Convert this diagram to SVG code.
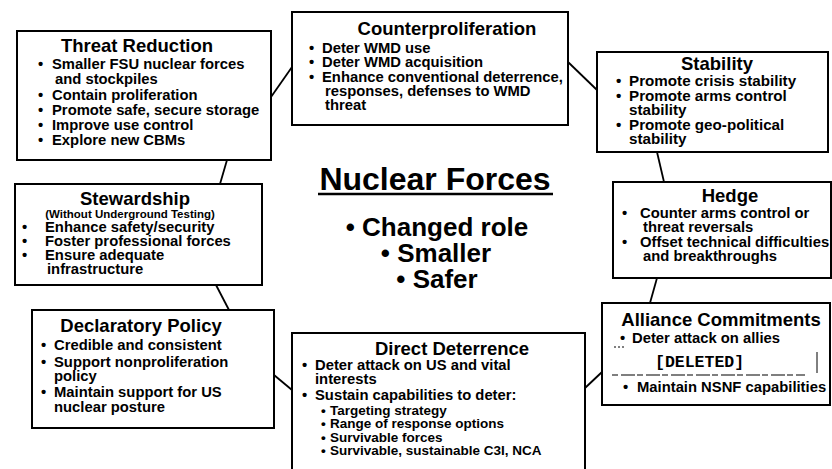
<svg xmlns="http://www.w3.org/2000/svg" width="832" height="469" viewBox="0 0 832 469">
<style>
.box{fill:#fff;stroke:#000;stroke-width:2}
.t{font-family:"Liberation Sans",Arial,sans-serif;font-weight:bold;font-size:18.5px;text-anchor:middle;fill:#000}
.b{font-family:"Liberation Sans",Arial,sans-serif;font-weight:bold;font-size:14.8px;fill:#000}
.bs{font-family:"Liberation Sans",Arial,sans-serif;font-weight:bold;font-size:15.2px;fill:#000}
.s{font-family:"Liberation Sans",Arial,sans-serif;font-weight:bold;font-size:13.5px;fill:#000}
.c{font-family:"Liberation Sans",Arial,sans-serif;font-weight:bold;text-anchor:middle;fill:#000}
.ln{stroke:#000;stroke-width:1.8;fill:none}
</style>
<rect width="832" height="469" fill="#fff"/>
<g id="connectors">
<line class="ln" x1="271" y1="97" x2="292" y2="67"/>
<line class="ln" x1="568" y1="62" x2="597" y2="90"/>
<line class="ln" x1="220" y1="184" x2="227" y2="160"/>
<line class="ln" x1="657" y1="152" x2="664" y2="182"/>
<line class="ln" x1="216" y1="285" x2="229" y2="310"/>
<line class="ln" x1="657" y1="278" x2="650" y2="303"/>
<line class="ln" x1="274" y1="375" x2="292" y2="390"/>
<line class="ln" x1="602" y1="372" x2="585" y2="388"/>
</g>
<g id="threat-reduction">
<rect class="box" x="17" y="31" width="254" height="129"/>
<text class="t" x="137" y="52">Threat Reduction</text>
<text class="b" x="38" y="69">•</text><text class="b" x="52" y="69">Smaller FSU nuclear forces</text>
<text class="b" x="55" y="84">and stockpiles</text>
<text class="b" x="38" y="100">•</text><text class="b" x="52" y="100">Contain proliferation</text>
<text class="b" x="38" y="115">•</text><text class="b" x="52" y="115">Promote safe, secure storage</text>
<text class="b" x="38" y="130">•</text><text class="b" x="52" y="130">Improve use control</text>
<text class="b" x="38" y="145">•</text><text class="b" x="52" y="145">Explore new CBMs</text>
</g>
<g id="counterproliferation">
<rect class="box" x="292" y="12" width="276" height="113"/>
<text class="t" x="447" y="35">Counterproliferation</text>
<text class="b" x="309" y="53">•</text><text class="b" x="322" y="53">Deter WMD use</text>
<text class="b" x="309" y="67">•</text><text class="b" x="322" y="67">Deter WMD acquisition</text>
<text class="b" x="309" y="82">•</text><text class="b" x="322" y="82">Enhance conventional deterrence,</text>
<text class="b" x="325" y="96">responses, defenses to WMD</text>
<text class="b" x="325" y="110">threat</text>
</g>
<g id="stability">
<rect class="box" x="597" y="52" width="231" height="100"/>
<text class="t" x="717" y="70">Stability</text>
<text class="bs" x="616" y="86">•</text><text class="bs" x="629" y="86">Promote crisis stability</text>
<text class="bs" x="616" y="100.5">•</text><text class="bs" x="629" y="100.5">Promote arms control</text>
<text class="bs" x="629" y="115">stability</text>
<text class="bs" x="616" y="129.5">•</text><text class="bs" x="629" y="129.5">Promote geo-political</text>
<text class="bs" x="629" y="144">stability</text>
</g>
<g id="stewardship">
<rect class="box" x="15" y="184" width="247" height="101"/>
<text class="t" x="135" y="205">Stewardship</text>
<text class="c" x="130" y="218" style="font-size:11.5px">(Without Underground Testing)</text>
<text class="b" x="22" y="232">•</text><text class="b" x="45" y="232">Enhance safety/security</text>
<text class="b" x="22" y="246">•</text><text class="b" x="45" y="246">Foster professional forces</text>
<text class="b" x="22" y="260">•</text><text class="b" x="45" y="260">Ensure adequate</text>
<text class="b" x="47" y="274">infrastructure</text>
</g>
<g id="center">
<text class="c" x="435" y="190" style="font-size:32px">Nuclear Forces</text>
<line x1="318" y1="194" x2="553" y2="194" stroke="#000" stroke-width="2.5"/>
<text class="c" x="437" y="236" style="font-size:26px">• Changed role</text>
<text class="c" x="436" y="262" style="font-size:26px">• Smaller</text>
<text class="c" x="437" y="288" style="font-size:26px">• Safer</text>
</g>
<g id="hedge">
<rect class="box" x="613" y="182" width="218" height="96"/>
<text class="t" x="730" y="202">Hedge</text>
<text class="b" x="622" y="218">•</text><text class="b" x="640" y="218">Counter arms control  or</text>
<text class="b" x="643" y="232">threat reversals</text>
<text class="b" x="622" y="247">•</text><text class="b" x="640" y="247">Offset technical difficulties</text>
<text class="b" x="643" y="261">and breakthroughs</text>
</g>
<g id="declaratory-policy">
<rect class="box" x="32" y="310" width="242" height="118"/>
<text class="t" x="141" y="332">Declaratory Policy</text>
<text class="b" x="41" y="350">•</text><text class="b" x="54" y="350">Credible and consistent</text>
<text class="b" x="41" y="367">•</text><text class="b" x="54" y="367">Support nonproliferation</text>
<text class="b" x="54" y="381">policy</text>
<text class="b" x="41" y="397">•</text><text class="b" x="54" y="397">Maintain support for US</text>
<text class="b" x="54" y="412">nuclear posture</text>
</g>
<g id="direct-deterrence">
<rect class="box" x="292" y="333" width="293" height="140"/>
<text class="t" x="452" y="355">Direct Deterrence</text>
<text class="b" x="302" y="370">•</text><text class="b" x="315" y="370">Deter attack on US and vital</text>
<text class="b" x="315" y="384">interests</text>
<text class="b" x="302" y="400">•</text><text class="b" x="315" y="400">Sustain capabilities to deter:</text>
<text class="s" x="321" y="415">•</text><text class="s" x="330" y="415">Targeting strategy</text>
<text class="s" x="321" y="428">•</text><text class="s" x="330" y="428">Range of response options</text>
<text class="s" x="321" y="442">•</text><text class="s" x="330" y="442">Survivable forces</text>
<text class="s" x="321" y="455">•</text><text class="s" x="330" y="455">Survivable, sustainable C3I, NCA</text>
</g>
<g id="alliance-commitments">
<rect class="box" x="602" y="303" width="228" height="102"/>
<text class="t" x="721" y="326">Alliance Commitments</text>
<text class="b" x="620" y="343">•</text><text class="b" x="632" y="343">Deter attack on allies</text>
<text x="655" y="367" style="font-family:'Liberation Mono','Courier New',monospace;font-weight:bold;font-size:16.5px">[DELETED]</text>
<line x1="614" y1="347" x2="624" y2="347" stroke="#000" stroke-width="1" stroke-dasharray="2 2"/>
<line x1="612" y1="375" x2="805" y2="375" stroke="#000" stroke-width="1.2" stroke-dasharray="6 3 14 2"/>
<line x1="817" y1="352" x2="817" y2="373" stroke="#000" stroke-width="1"/>
<text class="b" x="623" y="392">•</text><text class="b" x="637" y="392">Maintain NSNF capabilities</text>
</g>
</svg>
